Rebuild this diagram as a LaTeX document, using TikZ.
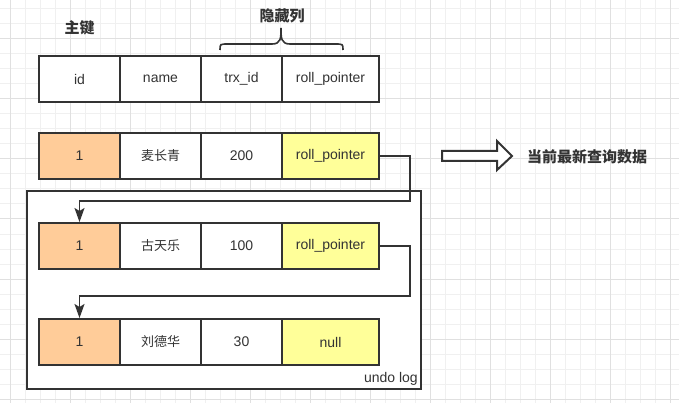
\documentclass[tikz,border=0pt]{standalone}
\usepackage{fontspec}
\setmainfont{Liberation Sans}
\newfontfamily\cjk{Noto Sans CJK SC}
\usepackage{tikz}
\usetikzlibrary{arrows.meta,positioning}
\definecolor{linec}{HTML}{333333}
\definecolor{keyc}{HTML}{FFCC99}
\definecolor{hidc}{HTML}{FFFF99}
\definecolor{gridminor}{HTML}{F0F0F0}
\definecolor{gridmajor}{HTML}{E0E0E0}
\newcommand{\zh}[1]{{\cjk\fontsize{13}{15}\selectfont #1}}
\tikzset{
    %Define standard arrow tip
    >={Stealth[length=14pt,width=10pt,inset=3pt]},
    %Define style for boxes
    cell/.style={
           rectangle,
           draw=linec, line width=2pt,
           minimum width=81pt,
           minimum height=46pt,
           inner sep=0pt,
           font=\fontsize{14}{16}\selectfont,
           text=linec,
           text centered,
           fill=white},
    key/.style={cell, fill=keyc},
    hid/.style={cell, fill=hidc, minimum width=97pt},
    title/.style={
           font=\cjk\bfseries\fontsize{15}{18}\selectfont,
           text=linec},
    % Define arrow style
    pil/.style={
           ->,
           draw=linec,
           line width=1.6pt}
}

\begin{document}
\begin{tikzpicture}[x=1pt,y=-1pt,wide/.style={cell, minimum width=97pt}]
\useasboundingbox (0,0) rectangle (679,403);
% background grid
\fill[white] (0,0) rectangle (679,403);
\foreach \x in {10,25,...,670} \draw[gridminor,line width=1pt] (\x,0) -- (\x,403);
\foreach \y in {9,24,...,399} \draw[gridminor,line width=1pt] (0,\y) -- (679,\y);
\foreach \x in {10,70,...,670} \draw[gridmajor,line width=1pt] (\x,0) -- (\x,403);
\foreach \y in {39,99,...,399} \draw[gridmajor,line width=1pt] (0,\y) -- (679,\y);

% titles
\node[title](pk) at (79.5,27.5){主键};
\node[title](hidden) at (282,15.5){隐藏列};
\node[title](latest) at (587,157){当前最新查询数据};
\draw[linec, line width=1.6pt] (220,50) .. controls (220,44) .. (228,44) -- (272,44)
    .. controls (281,44) and (281,38) .. (281,28)
    .. controls (281,38) and (281,44) .. (290,44) -- (335,44)
    .. controls (343,44) .. (343,50);

% undo log box
\node[draw=linec, line width=2pt, fill=white, minimum width=394pt, minimum height=198pt, inner sep=0pt](undo) at (224,290){};
\node[anchor=base east, font=\fontsize{14}{16}\selectfont, text=linec, inner sep=0pt](undolbl) at (418,382){undo log};

% header
\node[cell](h1) at (79.5,79){id};
\node[cell, right=-2pt of h1](h2){name};
\node[cell, right=-2pt of h2](h3){trx\_id};
\node[wide, right=-2pt of h3](h4){roll\_pointer};
% current row
\node[key](a1) at (79.5,156){1};
\node[cell, right=-2pt of a1](a2){\zh{麦长青}};
\node[cell, right=-2pt of a2](a3){200};
\node[hid, right=-2pt of a3](a4){roll\_pointer};
% undo rows
\node[key](b1) at (79.5,246){1};
\node[cell, right=-2pt of b1](b2){\zh{古天乐}};
\node[cell, right=-2pt of b2](b3){100};
\node[hid, right=-2pt of b3](b4){roll\_pointer};
\node[key](c1) at (79.5,342){1};
\node[cell, right=-2pt of c1](c2){\zh{刘德华}};
\node[cell, right=-2pt of c2](c3){30};
\node[hid, right=-2pt of c3](c4){null};

% pointers
\draw[pil] (a4.east) -- ++(30,0) -- ++(0,45) -| (b1.north);
\draw[pil] (b4.east) -- ++(30,0) -- ++(0,50) -| (c1.north);

% fat arrow
\draw[linec, line width=2pt, fill=white, line join=miter] (442,151) -- (497,151) -- (497,141)
    -- (512,156) -- (497,170) -- (497,161) -- (442,161) -- cycle;
\end{tikzpicture}
\end{document}
